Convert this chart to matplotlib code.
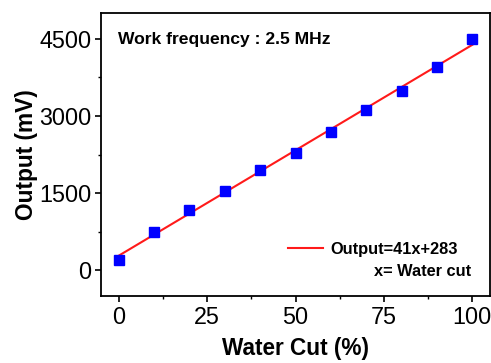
import matplotlib
matplotlib.use("Agg")
import matplotlib.pyplot as plt
import numpy as np

water_cut = [0, 10, 20, 30, 40, 50, 60, 70, 80, 90, 100]
output_mv = [200, 748, 1174, 1542, 1948, 2285, 2692, 3124, 3486, 3951, 4500]
slope, intercept = 41, 283
x_ticks = [0, 25, 50, 75, 100]
y_ticks = [0, 1500, 3000, 4500]

plt.rcParams['font.family'] = ['Liberation Sans', 'DejaVu Sans']

fig = plt.figure(figsize=(4.91, 3.63), dpi=100)
ax = fig.add_axes([0.2057, 0.1846, 0.7923, 0.7794])

fit_x = np.array([0, 100])
fit_y = slope * fit_x + intercept
ax.plot(fit_x, fit_y, color='#ff1a1a', lw=1.5, label='Output=41x+283', zorder=2)
ax.plot(water_cut, output_mv, 's', color='#0000ff', markersize=7.5, zorder=3)

ax.set_xlim(-5, 105)
ax.set_ylim(-500, 5000)
ax.set_xticks(x_ticks)
ax.set_yticks(y_ticks)
ax.set_xticks([12.5, 37.5, 62.5, 87.5], minor=True)
ax.set_yticks([750, 2250, 3750], minor=True)
ax.tick_params(which='major', direction='out', length=4, width=1.2, labelsize=16.8, pad=3)
ax.tick_params(which='minor', direction='out', length=2.5, width=1.0)
for s in ax.spines.values():
    s.set_linewidth(1.3)

ax.set_xlabel('Water Cut (%)', fontsize=16.3, fontweight='bold', labelpad=6)
ax.set_ylabel('Output (mV)', fontsize=16.3, fontweight='bold', labelpad=1)

ax.text(0.044, 0.908, 'Work frequency : 2.5 MHz', transform=ax.transAxes,
        fontsize=12.6, fontweight='bold', ha='left', va='center')

leg = ax.legend(loc='center left', bbox_to_anchor=(0.481, 0.166), frameon=False,
                borderpad=0, borderaxespad=0, handlelength=2.1, handletextpad=0.5,
                prop={'weight': 'bold', 'size': 11.8})
ax.text(0.951, 0.088, 'x= Water cut', transform=ax.transAxes, fontsize=11.8,
        fontweight='bold', ha='right', va='center')

fig.savefig('out.png', dpi=100)
